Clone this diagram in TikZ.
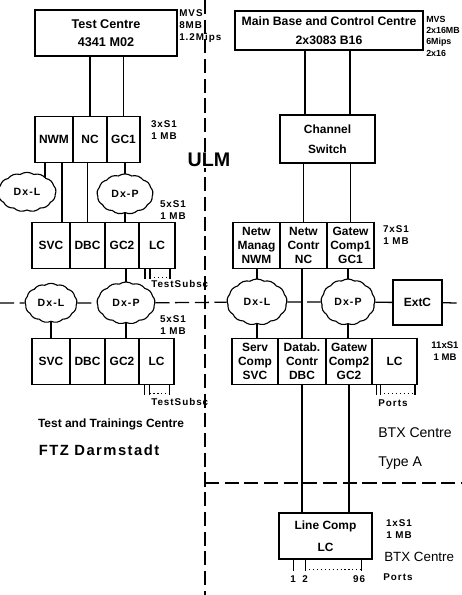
\documentclass[tikz,border=0pt]{standalone}
\usepackage{fontspec}
\setmainfont{Liberation Sans}
\newfontfamily\widefont{Liberation Sans}[LetterSpace=10]
\usetikzlibrary{shapes.symbols, positioning, backgrounds, calc}

\tikzset{
  % Computer boxes
  unitbox/.style={
    rectangle, draw, line width=0.9pt, align=center, inner sep=1pt,
    font=\fontsize{9}{13}\selectfont\bfseries,
  },
  % Processor cells in a row
  cell/.style={
    rectangle, draw, line width=0.9pt, align=center, inner sep=0pt,
    outer sep=0pt, minimum height=1.15cm,
    font=\fontsize{8.5}{9.8}\selectfont\bfseries,
  },
  % Switching networks
  dx/.style={
    cloud, cloud puffs=13, cloud puff arc=70, draw, fill=white,
    line width=0.8pt, inner sep=0pt,
    font=\fontsize{7.5}{9}\selectfont\widefont\bfseries,
  },
  % Lines
  link/.style={line width=1pt},
  sepline/.style={line width=0.9pt, dash pattern=on 10pt off 4pt},
  port/.style={line width=0.8pt},
  % Labels
  note/.style={align=center, inner sep=0pt, font=\fontsize{7}{8.5}\selectfont\widefont\bfseries},
  sitelabel/.style={inner sep=0pt, font=\fontsize{10}{12}\selectfont},
}

\begin{document}
\begin{tikzpicture}[x=0.025cm, y=-0.025cm]
  \useasboundingbox (0,0) rectangle (462,595);

  % Site boundaries
  \coordinate (ulmtop) at (205,0);
  \coordinate (ulmbot) at (205,595);
  \coordinate (lanw) at (0,303);
  \coordinate (lane) at (462,303);
  \coordinate (typew) at (205,483);
  \coordinate (typee) at (462,483);

  % Test centre (left)
  \node[unitbox, minimum width=3.55cm, minimum height=1.15cm] (testc) at (106,33) {Test Centre\\4341 M02};
  \node[note, anchor=north west, align=left] (testmem) at (179,9) {MVS\\8MB\\1.2Mips};

  \node[cell, minimum width=0.95cm] (nwmA) at (54,139.5) {NWM};
  \node[cell, minimum width=0.85cm, right=0pt of nwmA] (ncA) {NC};
  \node[cell, minimum width=0.825cm, right=0pt of ncA] (gcA) {GC1};
  \node[note] (memA) at (164,130) {3xS1\\1 MB};

  \node[dx, minimum width=1.45cm, minimum height=0.8cm] (dxlA) at (27,192) {Dx-L};
  \node[dx, minimum width=1.4cm, minimum height=0.9cm] (dxpA) at (125,194) {Dx-P};
  \node[note] (memB) at (173,210) {5xS1\\1 MB};

  \node[cell, minimum width=0.95cm] (svcB) at (51,245.5) {SVC};
  \node[cell, minimum width=0.875cm, right=0pt of svcB] (dbcB) {DBC};
  \node[cell, minimum width=0.85cm, right=0pt of dbcB] (gcB) {GC2};
  \node[cell, minimum width=0.9cm, right=0pt of gcB] (lcB) {LC};
  \node[note, anchor=west] (subsB) at (151,284) {TestSubsc};

  \node[dx, minimum width=1.3cm, minimum height=0.92cm] (dxlB) at (51,303) {Dx-L};
  \node[dx, minimum width=1.45cm, minimum height=1.05cm] (dxpB) at (126,303) {Dx-P};
  \node[note] (memC) at (173,325) {5xS1\\1 MB};

  \node[cell, minimum width=0.95cm] (svcC) at (51,361.5) {SVC};
  \node[cell, minimum width=0.875cm, right=0pt of svcC] (dbcC) {DBC};
  \node[cell, minimum width=0.85cm, right=0pt of dbcC] (gcC) {GC2};
  \node[cell, minimum width=0.875cm, right=0pt of gcC] (lcC) {LC};
  \node[note, anchor=west] (subsC) at (151,402) {TestSubsc};

  \node[inner sep=0pt, font=\fontsize{8.5}{10}\selectfont\bfseries] (ttc) at (111,424) {Test and Trainings Centre};
  \node[inner sep=0pt, font=\fontsize{10.5}{12}\selectfont\widefont\bfseries] (ftz) at (99,450) {FTZ Darmstadt};

  % Main base (right)
  \node[unitbox, minimum width=4.7cm, minimum height=0.975cm,
        font=\fontsize{8.7}{13}\selectfont\bfseries] (mainb) at (329,30.5) {Main Base and Control Centre\\2x3083 B16};
  \node[note, anchor=north west, align=left,
        font=\fontsize{6.3}{8}\selectfont\bfseries] (mainmem) at (426,16) {MVS\\2x16MB\\6Mips\\2x16};

  \node[unitbox, minimum width=2.375cm, minimum height=1.2cm,
        font=\fontsize{8.5}{14}\selectfont\bfseries] (chsw) at (327.5,139) {Channel\\Switch};

  \node[cell, minimum width=1.175cm] (nwmR) at (256.5,245.5) {Netw\\Manag\\NWM};
  \node[cell, minimum width=1.175cm, right=0pt of nwmR] (ncR) {Netw\\Contr\\NC};
  \node[cell, minimum width=1.175cm, right=0pt of ncR] (gcR) {Gatew\\Comp1\\GC1};
  \node[note] (memR) at (396,235) {7xS1\\1 MB};

  \node[dx, minimum width=1.5cm, minimum height=1.15cm] (dxlR) at (257,302) {Dx-L};
  \node[dx, minimum width=1.35cm, minimum height=1.15cm] (dxpR) at (348,302) {Dx-P};
  \node[rectangle, draw, line width=0.9pt, minimum width=1.225cm, minimum height=1.125cm,
        font=\fontsize{8.5}{10}\selectfont\bfseries] (extc) at (417.5,302.5) {ExtC};

  \node[cell, minimum width=1.15cm] (svcR) at (255,361.5) {Serv\\Comp\\SVC};
  \node[cell, minimum width=1.2cm, right=0pt of svcR] (dbcR) {Datab.\\Contr\\DBC};
  \node[cell, minimum width=1.15cm, right=0pt of dbcR] (gc2R) {Gatew\\Comp2\\GC2};
  \node[cell, minimum width=1.125cm, right=0pt of gc2R] (lcR) {LC};
  \node[note, font=\fontsize{6.8}{8.5}\selectfont\bfseries] (memS) at (445,351) {11xS1\\1 MB};
  \node[note] (portsR) at (393,403) {Ports};

  \node[sitelabel, anchor=west] (btxA) at (378,433) {BTX Centre};
  \node[sitelabel, anchor=west] (typeA) at (378,463) {Type A};

  \node[unitbox, minimum width=2.325cm, minimum height=1.15cm,
        font=\fontsize{8.5}{15.5}\selectfont\bfseries] (lcomp) at (325.5,536) {Line Comp\\LC};
  \node[note] (memL) at (399,529) {1xS1\\1 MB};
  \node[sitelabel, anchor=west, font=\fontsize{9.5}{12}\selectfont] (btxB) at (384,557) {BTX Centre};
  \node[note] (portsL) at (398,577) {Ports};

  \node[fill=white, inner sep=1pt, font=\fontsize{14}{16}\selectfont\bfseries] (ulm) at (209,160) {ULM};

  % Connections
  \begin{scope}[on background layer]
    \draw[sepline] (ulmtop) -- (ulmbot);
    \draw[sepline] (typew) -- (typee);
    \draw[sepline] (lanw) -- (dxlB);
    \draw[sepline] (dxlB) -- (dxpB);
    \draw[sepline] (dxpB) -- (dxlR);
    \draw[sepline] (dxlR) -- (dxpR);
    \draw[sepline] (extc) -- (lane);
    \draw[link] (dxpR) -- (extc);

    \draw[link] (testc.south -| ncA.north) -- (ncA.north);
    \draw[link] (testc.south -| gcA.north) -- (gcA.north);
    \draw[link] ([xshift=-0.225cm]nwmA.south) coordinate (t) -- (t |- dxlA.center);
    \draw[link] ([xshift=0.2cm]nwmA.south) coordinate (t) -- (t |- svcB.north);
    \draw[link] (dbcB.north |- ncA.south) -- (dbcB.north);
    \draw[link] (dxpA.center |- gcA.south) -- (dxpA.center) -- (dxpA.center |- gcB.north);
    \draw[link] (dxpB.center |- gcB.south) -- (dxpB.center) -- (dxpB.center |- gcC.north);
    \draw[link] (dxlB.center) -- (dxlB.center |- svcC.north);

    \draw[link] ([xshift=-0.5625cm]chsw.north) coordinate (t) -- (t |- mainb.south);
    \draw[link] ([xshift=0.5625cm]chsw.north) coordinate (t) -- (t |- mainb.south);
    \draw[link] (chsw.south -| ncR.north) -- (ncR.north);
    \draw[link] (chsw.south -| gcR.north) -- (gcR.north);
    \draw[link] (dxlR.center |- nwmR.south) -- (dxlR.center) -- (dxlR.center |- svcR.north);
    \draw[link] (dbcR.north |- ncR.south) -- (dbcR.north);
    \draw[link] (dxpR.center |- gcR.south) -- (dxpR.center) -- (dxpR.center |- gc2R.north);
    \draw[link] (dbcR.south) -- (dbcR.south |- lcomp.north);
    \draw[link] (gc2R.south) -- (gc2R.south |- lcomp.north);
  \end{scope}

  % Subscriber and port lines
  \draw[port] ([xshift=-0.3cm]lcB.south) -- ++(0,10);
  \draw[port] ([xshift=-0.175cm]lcB.south) -- ++(0,10);
  \draw[port] ([xshift=0.325cm]lcB.south) -- ++(0,10);
  \draw[port, dotted] ([xshift=-0.175cm,yshift=-0.22cm]lcB.south) -- ([xshift=0.325cm,yshift=-0.22cm]lcB.south);

  \draw[port] ([xshift=-0.3cm]lcC.south) -- ++(0,10);
  \draw[port] ([xshift=-0.175cm]lcC.south) -- ++(0,10);
  \draw[port] ([xshift=0.325cm]lcC.south) -- ++(0,10);
  \draw[port, dotted] ([xshift=-0.175cm,yshift=-0.22cm]lcC.south) -- ([xshift=0.325cm,yshift=-0.22cm]lcC.south);

  \draw[port] ([xshift=-0.46cm]lcR.south) -- ++(0,10);
  \draw[port] ([xshift=-0.36cm]lcR.south) -- ++(0,10);
  \draw[port] ([xshift=0.51cm]lcR.south) -- ++(0,10);
  \draw[port, dotted] ([xshift=-0.36cm,yshift=-0.22cm]lcR.south) -- ([xshift=0.51cm,yshift=-0.22cm]lcR.south);

  \draw[port] ([xshift=-0.81cm]lcomp.south) -- ++(0,11) node[note, below=3pt] (pone) {1};
  \draw[port] ([xshift=-0.51cm]lcomp.south) -- ++(0,11) node[note, below=3pt] (ptwo) {2};
  \draw[port] ([xshift=0.91cm]lcomp.south) -- ++(0,11) node[note, below=3pt, xshift=-2pt] (plast) {96};
  \draw[port, dotted] ([xshift=-0.51cm,yshift=-0.24cm]lcomp.south) -- ([xshift=0.91cm,yshift=-0.24cm]lcomp.south);
\end{tikzpicture}
\end{document}
